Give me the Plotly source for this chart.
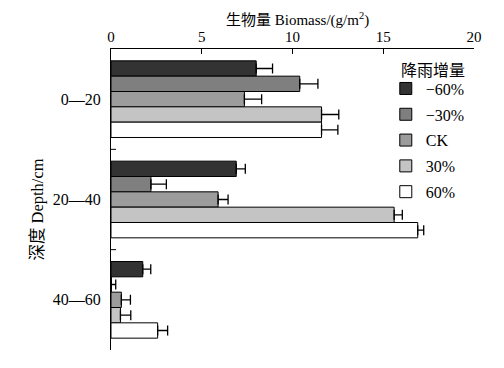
import plotly.graph_objects as go

depths = ["0—20", "20—40", "40—60"]
depth_pos = [0, 1, 2]
boundaries = [0.5, 1.5]
series = ["−60%", "−30%", "CK", "30%", "60%"]
values = {
    "−60%": [8.0, 6.9, 1.75],
    "−30%": [10.4, 2.2, 0.02],
    "CK": [7.35, 5.9, 0.57],
    "30%": [11.6, 15.6, 0.52],
    "60%": [11.6, 16.9, 2.57],
}
errors = {
    "−60%": [0.9, 0.5, 0.44],
    "−30%": [1.0, 0.85, 0.24],
    "CK": [0.95, 0.55, 0.5],
    "30%": [0.95, 0.45, 0.57],
    "60%": [0.9, 0.33, 0.55],
}
colors = ["#333333", "#7f7f7f", "#9c9c9c", "#c4c4c4", "#ffffff"]

FONT = "Liberation Serif, Times New Roman, Noto Sans CJK SC, serif"

fig = go.Figure()
for i, s in enumerate(series):
    fig.add_trace(go.Bar(
        name=s, y=depth_pos, x=values[s], orientation="h",
        marker=dict(color=colors[i], line=dict(color="black", width=1)),
        error_x=dict(type="data", array=errors[s], symmetric=False,
                     arrayminus=[0, 0, 0], color="black", thickness=1.3, width=5),
        legendgroup=s,
    ))

# small inside ticks at category boundaries on the left axis
for b in boundaries:
    fig.add_shape(type="line", xref="paper", yref="y", x0=0, x1=0.014, y0=b, y1=b,
                  line=dict(color="black", width=1))

fig.add_annotation(text="降雨增量", xref="paper", yref="paper", x=0.888, y=0.93,
                   xanchor="center", yanchor="middle", showarrow=False,
                   font=dict(size=16))
fig.add_annotation(text="生物量 Biomass/(g/m<sup>2</sup>)", xref="paper", yref="paper",
                   x=0.514, y=1.136, xanchor="center", yanchor="top",
                   showarrow=False, font=dict(size=15))
fig.add_annotation(text="深度 Depth/cm", xref="paper", yref="paper",
                   x=-0.205, y=0.465, xanchor="center", yanchor="middle",
                   textangle=-90, showarrow=False, font=dict(size=16.5))

fig.update_layout(
    width=496, height=360,
    margin=dict(l=103, r=30, t=41, b=18, autoexpand=False),
    paper_bgcolor="white", plot_bgcolor="white",
    font=dict(family=FONT, size=16, color="black"),
    barmode="group", bargap=0.236, bargroupgap=0,
    showlegend=True,
    legend=dict(
        x=0.757, y=0.925, xanchor="left", yanchor="top",
        traceorder="grouped", tracegroupgap=2,
        font=dict(size=16), bgcolor="rgba(0,0,0,0)",
        itemclick=False,
    ),
    xaxis=dict(
        side="top", range=[0, 20], tickvals=[0, 5, 10, 15, 20],
        ticks="inside", ticklen=5, tickcolor="black", tickfont=dict(size=15),
        showline=True, linecolor="black", linewidth=1,
        showgrid=False, zeroline=False, automargin=False,
    ),
    yaxis=dict(
        range=[2.5, -0.5], tickvals=depth_pos, ticktext=depths,
        ticks="", ticklabelstandoff=6,
        showline=True, linecolor="black", linewidth=1,
        showgrid=False, zeroline=False, automargin=False,
    ),
)

fig.write_html("out.html")
